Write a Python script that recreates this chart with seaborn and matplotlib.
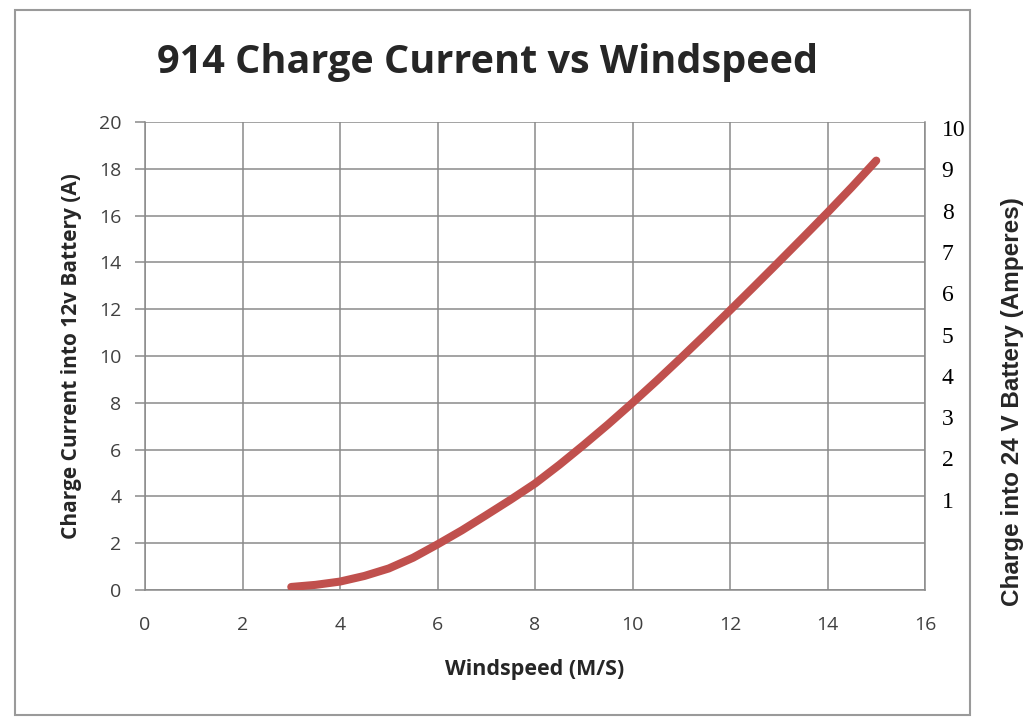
import matplotlib
matplotlib.use("Agg")
import matplotlib.pyplot as plt
import seaborn as sns
import pandas as pd
from matplotlib.patches import Rectangle

# values (every half m/s)
windspeed = [3, 3.5, 4, 4.5, 5, 5.5, 6, 6.5, 7, 7.5, 8, 8.5, 9, 9.5, 10,
             10.5, 11, 11.5, 12, 12.5, 13, 13.5, 14, 14.5, 15]
current_12v = [0.13, 0.22, 0.36, 0.6, 0.92, 1.38, 1.95, 2.55, 3.2, 3.86, 4.55, 5.35, 6.2, 7.08, 8.0,
               8.95, 9.93, 10.93, 11.95, 12.98, 14.02, 15.07, 16.13, 17.22, 18.35]
x_ticks = list(range(0, 17, 2))
left_ticks = list(range(0, 21, 2))
right_ticks = list(range(1, 11))

df = pd.DataFrame({"Windspeed": windspeed, "Current": current_12v})

sns.set_style("white")
plt.rcParams["font.family"] = ["Open Sans", "DejaVu Sans"]

fig = plt.figure(figsize=(10.26, 7.26), dpi=100)
ax = fig.add_axes([145 / 1026, 1 - 590 / 726, 780 / 1026, 468 / 726])

grid_col = "#8a8a8a"
sns.lineplot(data=df, x="Windspeed", y="Current", ax=ax, color="#C0504D",
             linewidth=5.8, solid_capstyle="round", solid_joinstyle="round", zorder=3)

ax.set_xlim(0, 16)
ax.set_ylim(0, 20)
ax.set_xticks(x_ticks)
ax.set_yticks(left_ticks)
ax.grid(True, color=grid_col, linewidth=1.1)
ax.spines["top"].set_visible(False)
for side in ["left", "bottom", "right"]:
    ax.spines[side].set_color(grid_col)
    ax.spines[side].set_linewidth(1.1)
ax.tick_params(axis="both", direction="out", length=7, width=1.1, color=grid_col,
               labelsize=14, labelcolor="#404040")
ax.tick_params(axis="x", pad=12)
ax.tick_params(axis="y", pad=10)
ax.set_xlabel("Windspeed (M/S)", fontsize=15.5, fontweight="bold", labelpad=18)
ax.set_ylabel("Charge Current into 12v Battery (A)", fontsize=15, fontweight="bold", labelpad=12)

ax2 = ax.twinx()
ax2.set_ylim(-1.19, 10.15)
ax2.set_yticks(right_ticks)
ax2.set_yticklabels([str(t) for t in right_ticks], family="Liberation Serif", fontsize=17)
ax2.tick_params(axis="y", length=0, pad=12, labelcolor="black")
for side in ax2.spines:
    ax2.spines[side].set_visible(False)
ax2.grid(False)

fig.text(488 / 1026, 1 - 62 / 726, "914 Charge Current vs Windspeed",
         ha="center", va="center", fontsize=28.5, fontweight="bold")
fig.text(1012 / 1026, 1 - 402 / 726, "Charge into 24 V Battery (Amperes)",
         rotation=90, ha="center", va="center", fontsize=17.5, fontweight="bold",
         fontfamily=["Liberation Sans", "DejaVu Sans"])

fig.patches.append(Rectangle((15 / 1026, 1 - 715 / 726), 955 / 1026, 705 / 726,
                             transform=fig.transFigure, fill=False,
                             edgecolor="#9a9a9a", linewidth=1.5))

fig.savefig("out.png", dpi=100)
